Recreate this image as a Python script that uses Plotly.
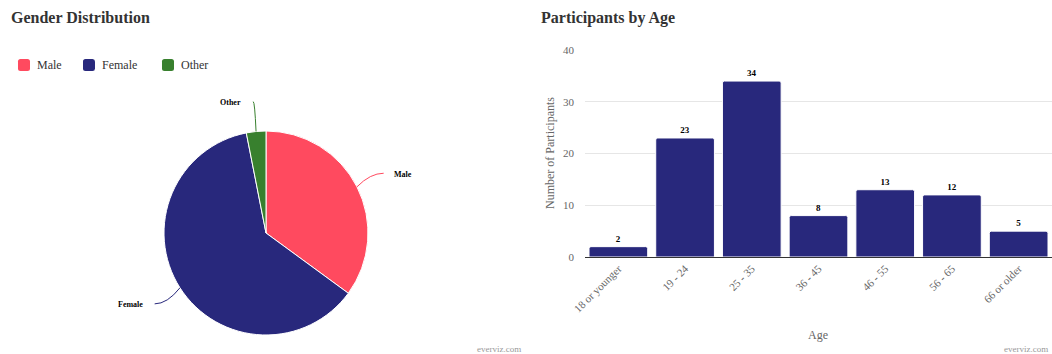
import math
import plotly.graph_objects as go

# --- data -------------------------------------------------------------
genders = ["Male", "Female", "Other"]
gender_counts = [34, 60, 3]
gender_colors = ["#FF4A5F", "#28287C", "#38802E"]

age_groups = ["18 or younger", "19 - 24", "25 - 35", "36 - 45", "46 - 55", "56 - 65", "66 or older"]
age_counts = [2, 23, 34, 8, 13, 12, 5]
y_ticks = [0, 10, 20, 30, 40]

# --- canvas helpers ---------------------------------------------------
W, H = 1052, 354
FONT = "Liberation Serif"


def px(x):
    return x / W


def py(y):
    return (H - y) / H


# pie geometry (pixels)
cx, cy, r = 266, 233, 102
label_distance = 30

# legend layout (pixels): left edge of each swatch, row centre, swatch size
legend_x = [18, 83, 162]
legend_y = 65
swatch = 12

fig = go.Figure()

fig.add_trace(go.Pie(
    labels=genders,
    values=gender_counts,
    marker=dict(colors=gender_colors, line=dict(color="#ffffff", width=1)),
    sort=False,
    direction="clockwise",
    rotation=0,
    textinfo="none",
    hoverinfo="label+value+percent",
    domain=dict(x=[px(cx - r), px(cx + r)], y=[py(cy + r), py(cy - r)]),
    showlegend=False,
))

fig.add_trace(go.Bar(
    x=age_groups,
    y=age_counts,
    marker=dict(color="#28287C", line=dict(color="#ffffff", width=1)),
    text=[str(v) for v in age_counts],
    textposition="outside",
    textfont=dict(family=FONT, size=9, color="#000000", weight="bold"),
    cliponaxis=False,
    showlegend=False,
    xaxis="x",
    yaxis="y",
))

shapes = []
annotations = []


def rounded_square(x0, y0, size, rad):
    x1, y1 = x0 + size, y0 + size
    pts = [
        ("M", x0 + rad, y0), ("L", x1 - rad, y0), ("Q", x1, y0, x1, y0 + rad),
        ("L", x1, y1 - rad), ("Q", x1, y1, x1 - rad, y1), ("L", x0 + rad, y1),
        ("Q", x0, y1, x0, y1 - rad), ("L", x0, y0 + rad), ("Q", x0, y0, x0 + rad, y0),
    ]
    out = []
    for p in pts:
        cmd, coords = p[0], p[1:]
        conv = []
        for i in range(0, len(coords), 2):
            conv.append("{:.5f},{:.5f}".format(px(coords[i]), py(coords[i + 1])))
        out.append(cmd + " " + " ".join(conv))
    return " ".join(out) + " Z"


# legend: swatch + label per gender
for name, col, lx in zip(genders, gender_colors, legend_x):
    shapes.append(dict(type="path", xref="paper", yref="paper",
                       path=rounded_square(lx, legend_y - swatch / 2, swatch, 2.5),
                       fillcolor=col, line=dict(width=0)))
    annotations.append(dict(
        x=px(lx + swatch + 5), y=py(legend_y), xref="paper", yref="paper",
        text=name, showarrow=False, xanchor="left", yanchor="middle",
        font=dict(family=FONT, size=12, color="#333333"),
    ))

# pie data labels with curved connectors, placed from each slice's mid angle
total = sum(gender_counts)
start = 0.0
for name, val, col in zip(genders, gender_counts, gender_colors):
    span = 360.0 * val / total
    mid = math.radians(start + span / 2)
    start += span
    sx, sy = math.sin(mid), -math.cos(mid)
    ex, ey = cx + r * sx, cy + r * sy
    ox, oy = cx + (r + label_distance) * sx, cy + (r + label_distance) * sy
    qx, qy = ex + (ox - ex) * 0.5, oy
    path = "M {:.4f},{:.4f} Q {:.4f},{:.4f} {:.4f},{:.4f}".format(
        px(ex), py(ey), px(qx), py(qy), px(ox), py(oy))
    shapes.append(dict(type="path", path=path, xref="paper", yref="paper",
                       line=dict(color=col, width=1)))
    right_side = sx >= 0
    annotations.append(dict(
        x=px(ox + (8 if right_side else -10)), y=py(oy + 1), xref="paper", yref="paper",
        text="<b>%s</b>" % name, showarrow=False,
        xanchor="left" if right_side else "right", yanchor="middle",
        font=dict(family=FONT, size=8, color="#000000"),
    ))

# chart titles
annotations += [
    dict(x=px(9), y=py(18), xref="paper", yref="paper", text="<b>Gender Distribution</b>",
         showarrow=False, xanchor="left", yanchor="middle",
         font=dict(family=FONT, size=16, color="#333333")),
    dict(x=px(539), y=py(18), xref="paper", yref="paper", text="<b>Participants by Age</b>",
         showarrow=False, xanchor="left", yanchor="middle",
         font=dict(family=FONT, size=16, color="#333333")),
    # axis titles
    dict(x=px(550), y=py(153), xref="paper", yref="paper", text="Number of Participants",
         showarrow=False, textangle=-90, xanchor="center", yanchor="middle",
         font=dict(family=FONT, size=12, color="#666666")),
    dict(x=px(818), y=py(335), xref="paper", yref="paper", text="Age",
         showarrow=False, xanchor="center", yanchor="middle",
         font=dict(family=FONT, size=12, color="#666666")),
    # credits
    dict(x=px(523), y=py(349), xref="paper", yref="paper", text="everviz.com",
         showarrow=False, xanchor="right", yanchor="middle",
         font=dict(family=FONT, size=9, color="#999999")),
    dict(x=px(1050), y=py(349), xref="paper", yref="paper", text="everviz.com",
         showarrow=False, xanchor="right", yanchor="middle",
         font=dict(family=FONT, size=9, color="#999999")),
]

fig.update_layout(
    width=W, height=H,
    margin=dict(l=0, r=0, t=0, b=0, pad=0, autoexpand=False),
    paper_bgcolor="#ffffff",
    plot_bgcolor="#ffffff",
    font=dict(family=FONT, color="#333333"),
    showlegend=False,
    bargap=0.12,
    barcornerradius=2,
    xaxis=dict(
        domain=[px(585), 1.0],
        anchor="y",
        automargin=False,
        showgrid=False,
        showline=True, linecolor="#333333", linewidth=1,
        ticks="",
        tickangle=-45,
        tickfont=dict(family=FONT, size=11, color="#666666"),
        fixedrange=True,
    ),
    yaxis=dict(
        domain=[py(257), py(50)],
        anchor="x",
        automargin=False,
        range=[0, 40],
        tickvals=y_ticks,
        showgrid=True, gridcolor="#e6e6e6", gridwidth=1,
        zeroline=False,
        showline=False,
        ticks="",
        ticklabelstandoff=10,
        tickfont=dict(family=FONT, size=11, color="#666666"),
        fixedrange=True,
    ),
    shapes=shapes,
    annotations=annotations,
)

fig.write_html("out.html")
